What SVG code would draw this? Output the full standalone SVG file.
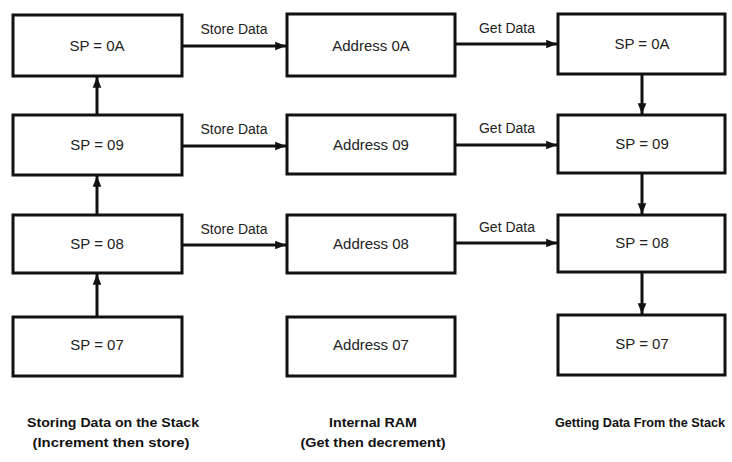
<svg xmlns="http://www.w3.org/2000/svg" width="732" height="462" viewBox="0 0 732 462">
<style>
.box{fill:#fff;stroke:#111;stroke-width:3}
.t{font-family:"Liberation Sans",Arial,sans-serif;font-size:15px;fill:#222;text-anchor:middle}
.lbl{font-family:"Liberation Sans",Arial,sans-serif;font-size:14px;fill:#222;text-anchor:middle}
.cap{font-family:"Liberation Sans",Arial,sans-serif;font-size:13.5px;font-weight:bold;fill:#111;text-anchor:middle}
.c{stroke:#111;stroke-width:3;fill:none;marker-end:url(#ah)}
</style>
<defs>
<marker id="ah" viewBox="0 0 10 10" refX="10" refY="5" markerWidth="3.6" markerHeight="3.6" markerUnits="strokeWidth" orient="auto">
<path d="M0,1 L10,5 L0,9 Z" fill="#111"/>
</marker>
</defs>
<rect width="732" height="462" fill="#fff"/>
<g id="connectors">
<line class="c" x1="97" y1="115" x2="97" y2="77"/>
<line class="c" x1="97" y1="215" x2="97" y2="176"/>
<line class="c" x1="97" y1="317" x2="97" y2="274"/>
<line class="c" x1="182" y1="46" x2="286" y2="46"/>
<line class="c" x1="182" y1="146" x2="286" y2="146"/>
<line class="c" x1="182" y1="245" x2="286" y2="245"/>
<line class="c" x1="455" y1="44" x2="557" y2="44"/>
<line class="c" x1="455" y1="145" x2="557" y2="145"/>
<line class="c" x1="455" y1="243" x2="557" y2="243"/>
<line class="c" x1="642" y1="74" x2="642" y2="114"/>
<line class="c" x1="642" y1="173" x2="642" y2="214"/>
<line class="c" x1="642" y1="272" x2="642" y2="314"/>
<text class="lbl" x="234" y="34">Store Data</text>
<text class="lbl" x="234" y="134">Store Data</text>
<text class="lbl" x="234" y="234">Store Data</text>
<text class="lbl" x="507" y="33">Get Data</text>
<text class="lbl" x="507" y="133">Get Data</text>
<text class="lbl" x="507" y="232">Get Data</text>
</g>
<g id="s0A"><rect class="box" x="13" y="15" width="169" height="61"/><text class="t" x="97" y="51">SP = 0A</text></g>
<g id="s09"><rect class="box" x="13" y="115" width="169" height="60"/><text class="t" x="97" y="150">SP = 09</text></g>
<g id="s08"><rect class="box" x="13" y="215" width="169" height="58"/><text class="t" x="97" y="249">SP = 08</text></g>
<g id="s07"><rect class="box" x="13" y="317" width="169" height="59"/><text class="t" x="97" y="350">SP = 07</text></g>
<g id="a0A"><rect class="box" x="287" y="14" width="168" height="62"/><text class="t" x="371" y="51">Address 0A</text></g>
<g id="a09"><rect class="box" x="287" y="115" width="168" height="59"/><text class="t" x="371" y="150">Address 09</text></g>
<g id="a08"><rect class="box" x="287" y="215" width="168" height="58"/><text class="t" x="371" y="249">Address 08</text></g>
<g id="a07"><rect class="box" x="287" y="317" width="168" height="59"/><text class="t" x="371" y="350">Address 07</text></g>
<g id="g0A"><rect class="box" x="558" y="14" width="167" height="60"/><text class="t" x="642" y="49">SP = 0A</text></g>
<g id="g09"><rect class="box" x="558" y="115" width="167" height="58"/><text class="t" x="642" y="149">SP = 09</text></g>
<g id="g08"><rect class="box" x="558" y="215" width="167" height="57"/><text class="t" x="642" y="248">SP = 08</text></g>
<g id="g07"><rect class="box" x="558" y="315" width="167" height="60"/><text class="t" x="642" y="349">SP = 07</text></g>
<g id="captions">
<text class="cap" x="113" y="427" textLength="172" lengthAdjust="spacingAndGlyphs">Storing Data on the Stack</text>
<text class="cap" x="111" y="447" textLength="157" lengthAdjust="spacingAndGlyphs">(Increment then store)</text>
<text class="cap" x="373" y="427" textLength="88" lengthAdjust="spacingAndGlyphs">Internal RAM</text>
<text class="cap" x="373" y="447" textLength="145" lengthAdjust="spacingAndGlyphs">(Get then decrement)</text>
<text class="cap" x="640" y="427" style="font-size:12.5px" textLength="170" lengthAdjust="spacingAndGlyphs">Getting Data From the Stack</text>
</g>
</svg>
